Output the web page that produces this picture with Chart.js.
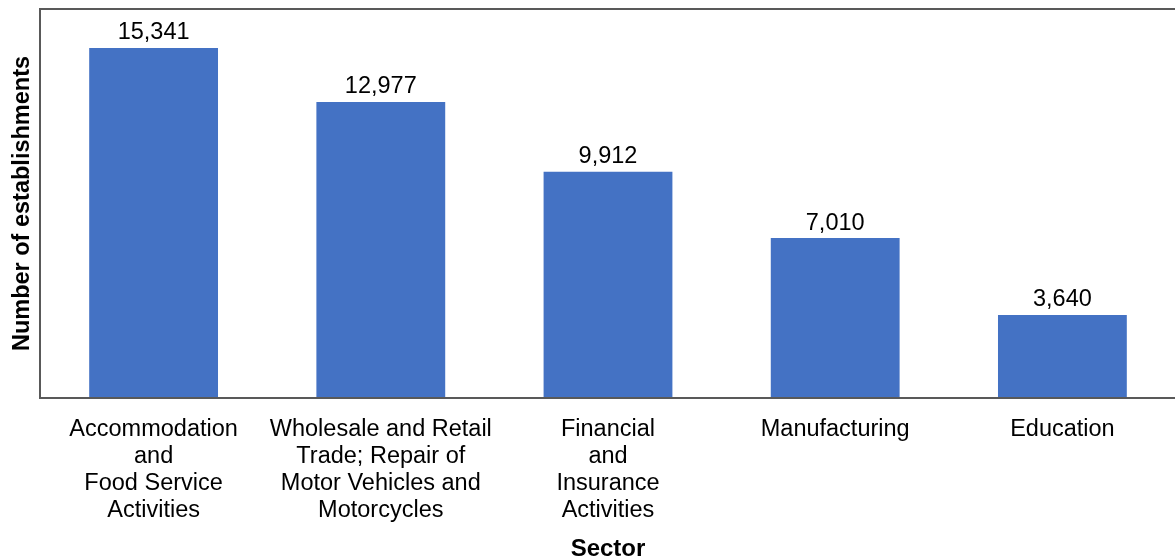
<!DOCTYPE html>
<html>
<head>
<meta charset="utf-8">
<script src="https://cdn.jsdelivr.net/npm/chart.js@4/dist/chart.umd.min.js"></script>
<style>
  html, body { margin: 0; padding: 0; background: #fff; overflow: hidden; }
  #wrap { width: 1176px; height: 558px; }
</style>
</head>
<body>
<div id="wrap"><canvas id="c" width="1176" height="558"></canvas></div>
<script>
const categories = [
  ["Accommodation", "and", "Food Service", "Activities"],
  ["Wholesale and Retail", "Trade; Repair of", "Motor Vehicles and", "Motorcycles"],
  ["Financial", "and", "Insurance", "Activities"],
  ["Manufacturing"],
  ["Education"]
];
const establishments = [15341, 12977, 9912, 7010, 3640];
const yAxisTitle = "Number of establishments";
const xAxisTitle = "Sector";

const FONT = "'Liberation Sans', Arial, sans-serif";

const frame = {
  id: 'frame',
  afterDraw(chart) {
    const { ctx, chartArea: a } = chart;
    ctx.save();
    ctx.strokeStyle = '#595959';
    ctx.lineWidth = 2;
    ctx.strokeRect(a.left, a.top, a.right - a.left, a.bottom - a.top);
    ctx.restore();
  }
};

const valueLabels = {
  id: 'valueLabels',
  afterDatasetsDraw(chart) {
    const { ctx } = chart;
    const meta = chart.getDatasetMeta(0);
    const data = chart.data.datasets[0].data;
    ctx.save();
    ctx.font = "23.5px " + FONT;
    ctx.fillStyle = '#000';
    ctx.textAlign = 'center';
    ctx.textBaseline = 'middle';
    meta.data.forEach((bar, i) => {
      ctx.fillText(data[i].toLocaleString('en-US'), bar.x, bar.y - 15);
    });
    ctx.restore();
  }
};

new Chart(document.getElementById('c'), {
  type: 'bar',
  data: {
    labels: categories,
    datasets: [{
      data: establishments,
      backgroundColor: '#4472C4',
      borderWidth: 0,
      categoryPercentage: 1,
      barPercentage: 0.567
    }]
  },
  options: {
    responsive: false,
    animation: false,
    layout: { padding: { top: 9, left: 0, right: 0, bottom: 0 } },
    plugins: { legend: { display: false }, tooltip: { enabled: false } },
    scales: {
      x: {
        grid: { display: false, drawTicks: false },
        border: { display: false },
        ticks: {
          color: '#000',
          font: { family: FONT, size: 23.5, lineHeight: 1.149 },
          padding: 18,
          maxRotation: 0,
          autoSkip: false
        },
        title: {
          display: true,
          text: xAxisTitle,
          color: '#000',
          font: { family: FONT, size: 24, weight: 'bold', lineHeight: 0.9 },
          padding: { top: 0, bottom: -2 }
        },
        afterFit(s) { s.height = 160; }
      },
      y: {
        min: 0,
        max: 17050,
        grid: { display: false, drawTicks: false },
        border: { display: false },
        ticks: { display: false },
        title: {
          display: true,
          text: yAxisTitle,
          color: '#000',
          font: { family: FONT, size: 23.5, weight: 'bold', lineHeight: 0.9 },
          padding: { top: 12, bottom: 0 }
        },
        afterFit(s) { s.width = 40; }
      }
    }
  },
  plugins: [frame, valueLabels]
});
</script>
</body>
</html>
